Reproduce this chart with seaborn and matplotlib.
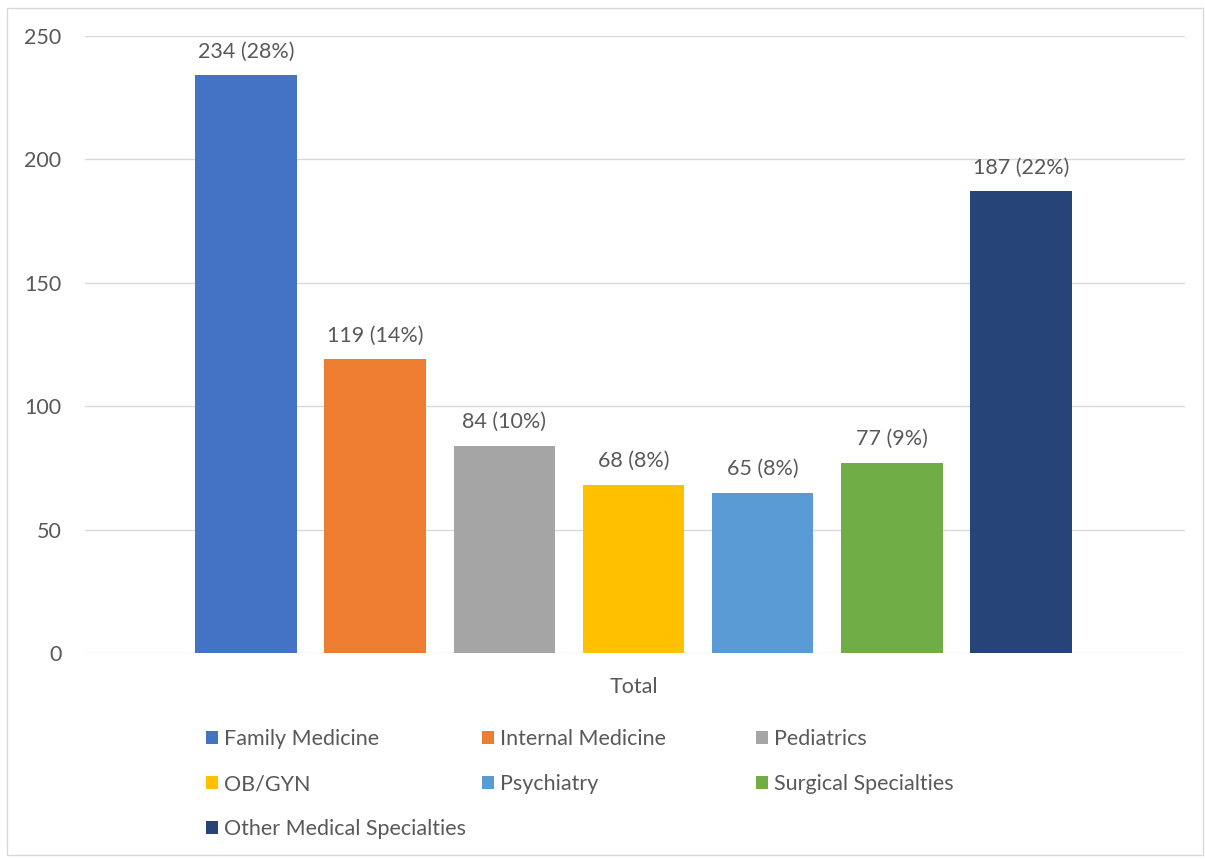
import matplotlib
matplotlib.use("Agg")
import matplotlib.pyplot as plt
from matplotlib.patches import Rectangle, Patch
import seaborn as sns
import pandas as pd

# Residency specialty counts
specialties = ["Family Medicine", "Internal Medicine", "Pediatrics", "OB/GYN",
               "Psychiatry", "Surgical Specialties", "Other Medical Specialties"]
counts = [234, 119, 84, 68, 65, 77, 187]
percents = [28, 14, 10, 8, 8, 9, 22]
group = "Total"
colors = ["#4472C4", "#ED7D31", "#A5A5A5", "#FFC000", "#5B9BD5", "#70AD47", "#264478"]

text_color = "#595959"
grid_color = "#D9D9D9"
fs = 15.5

sns.set_theme(style="white")
plt.rcParams["font.family"] = ["Lato", "DejaVu Sans"]

df = pd.DataFrame({"group": [group] * len(specialties),
                   "specialty": specialties,
                   "count": counts})

fig = plt.figure(figsize=(12.05, 8.59), dpi=100)
ax = fig.add_axes([85 / 1205, 1 - 653 / 859, 1100 / 1205, 617 / 859])

sns.barplot(data=df, x="group", y="count", hue="specialty", hue_order=specialties,
            palette=colors, width=0.822, gap=0.215, linewidth=0, saturation=1,
            legend=False, ax=ax)

for cont, n, p in zip(ax.containers, counts, percents):
    ax.bar_label(cont, labels=[f"{n} ({p}%)"], padding=10, fontsize=fs, color=text_color)

ax.set_ylim(0, 250)
ax.set_xlim(-0.4986, 0.5014)
ax.set_yticks(range(0, 251, 50))
ax.yaxis.grid(True, color=grid_color, linewidth=1)
ax.set_axisbelow(True)
for s in ax.spines.values():
    s.set_visible(False)
ax.tick_params(axis="y", length=0, pad=17, labelsize=fs, labelcolor=text_color)
ax.tick_params(axis="x", length=0, pad=17.5, labelsize=fs, labelcolor=text_color)
ax.set_xlabel("")
ax.set_ylabel("")

# Legend laid out row by row in three columns
col_x = [206 / 1205, 482 / 1205, 756 / 1205]
columns = [[0, 3, 6], [1, 4], [2, 5]]
for cx, idxs in zip(col_x, columns):
    handles = [Patch(facecolor=colors[i], edgecolor="none") for i in idxs]
    labels = [specialties[i] for i in idxs]
    fig.legend(handles, labels, loc="upper left", bbox_to_anchor=(cx, 1 - 729 / 859),
               frameon=False, fontsize=fs, labelcolor=text_color,
               handlelength=0.55, handleheight=0.55, handletextpad=0.3,
               labelspacing=1.17, borderpad=0, borderaxespad=0)

fig.patches.append(Rectangle((7 / 1205, 1 - 855 / 859), 1196 / 1205, 847 / 859,
                             transform=fig.transFigure, fill=False,
                             edgecolor=grid_color, linewidth=1))

fig.savefig("out.png", dpi=100)
